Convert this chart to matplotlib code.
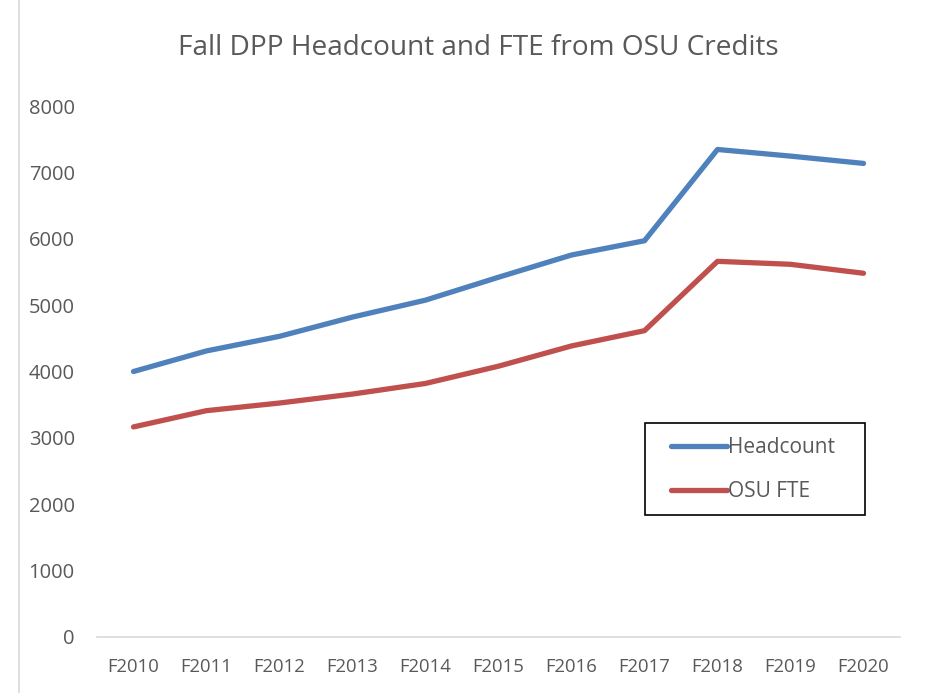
import matplotlib
matplotlib.use("Agg")
import matplotlib.pyplot as plt
from matplotlib.lines import Line2D
from matplotlib.patches import Rectangle

categories = ["F2010", "F2011", "F2012", "F2013", "F2014", "F2015",
              "F2016", "F2017", "F2018", "F2019", "F2020"]
headcount = [4000, 4310, 4530, 4820, 5075, 5420, 5755, 5970, 7345, 7245, 7135]
osu_fte = [3165, 3410, 3525, 3660, 3820, 4080, 4385, 4615, 5660, 5615, 5480]
yticks = [0, 1000, 2000, 3000, 4000, 5000, 6000, 7000, 8000]

W, H = 937, 693
fig = plt.figure(figsize=(W / 100, H / 100), dpi=100)
font = ["Open Sans", "DejaVu Sans"]
tc = "#595959"

ax = fig.add_axes([97 / W, 1 - 637 / H, (900 - 97) / W, (637 - 106) / H])
x = list(range(len(categories)))
ax.plot(x, headcount, color="#4F81BD", lw=3.8, solid_capstyle="round",
        solid_joinstyle="round", label="Headcount")
ax.plot(x, osu_fte, color="#C0504D", lw=3.8, solid_capstyle="round",
        solid_joinstyle="round", label="OSU FTE")
ax.set_xlim(-0.5, len(categories) - 0.5)
ax.set_ylim(0, 8000)
ax.set_xticks(x)
ax.set_xticklabels(categories, family=font, fontsize=13.3, color=tc)
ax.set_yticks(yticks)
ax.set_yticklabels([str(v) for v in yticks], family=font, fontsize=14.5, color=tc)
ax.tick_params(axis="both", length=0)
ax.tick_params(axis="x", pad=15)
ax.tick_params(axis="y", pad=16)
for s in ["top", "right", "left"]:
    ax.spines[s].set_visible(False)
ax.spines["bottom"].set_color("#D9D9D9")
ax.spines["bottom"].set_linewidth(1.2)

fig.text(478 / W, 1 - 48 / H, "Fall DPP Headcount and FTE from OSU Credits",
         ha="center", va="center", family=font, fontsize=20.2, color=tc)

# chart border at left
fig.add_artist(Line2D([19 / W, 19 / W], [0, 1], color="#D9D9D9", lw=1.2))

# legend box
fig.add_artist(Rectangle((645 / W, 1 - 515 / H), 220 / W, 92 / H,
                         transform=fig.transFigure, fill=False,
                         edgecolor="black", lw=1.2))
leg = fig.legend(loc="upper left",
                 bbox_to_anchor=(659.5 / W, 1 - 426 / H),
                 prop={"family": font, "size": 15},
                 handlelength=2.7, handletextpad=0.05, labelspacing=1.1,
                 borderpad=0.55, borderaxespad=0, frameon=False,
                 labelcolor=tc)

fig.savefig("out.png", dpi=100)
